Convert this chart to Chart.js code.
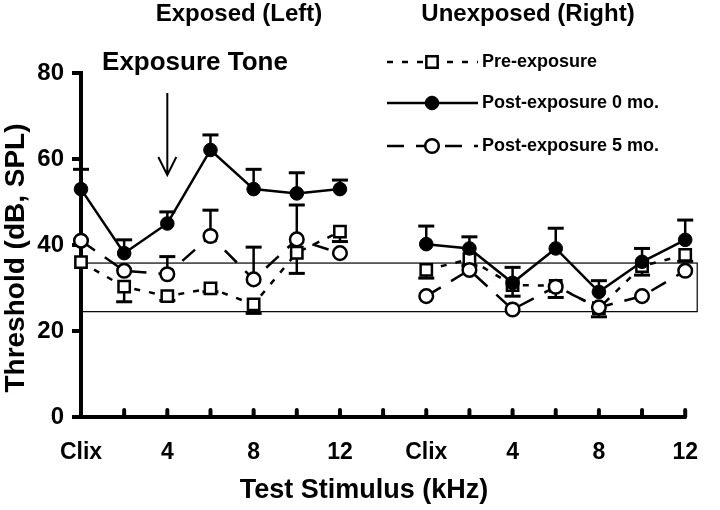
<!DOCTYPE html>
<html>
<head>
<meta charset="utf-8">
<script src="https://cdn.jsdelivr.net/npm/chart.js@4.4.1/dist/chart.umd.min.js"></script>
<style>
  html, body { margin: 0; padding: 0; background: #fff; }
</style>
</head>
<body>
<canvas id="thresholdChart" width="720" height="510"></canvas>
<script>
// two ears side by side, one empty slot between them
const categories = ["Clix", "", "4", "", "8", "", "12", "", "Clix", "", "4", "", "8", "", "12"];
const yTicks = [0, 20, 40, 60, 80];

const preExposure = [36, 30.3, 28.1, 29.9, 26.2, 38.2, 43.1, null, 34.2, 36.7, 30.7, 30.5, 25.3, 35.1, 37.7];
const postExp0 = [53, 38.1, 45, 62.1, 53, 52, 53, null, 40.2, 39.2, 31.2, 39.2, 29.1, 36.1, 41.2];
const postExp5 = [41, 34, 33.2, 42.1, 32, 41.3, 38.1, null, 28.1, 34.2, 25, 30.3, 25.5, 28.1, 34];

// error bars (one-sided): post-exposure go up, pre-exposure go down
const post0Err = [4.6, 3.1, 2.7, 3.5, 4.6, 4.8, 2.1, null, 4.2, 2.7, 3.6, 4.7, 2.6, 3.1, 4.6];
const post5Err = [null, null, 4.1, 6, 7.5, 8, null, null, null, null, null, null, null, null, null];
const preErr = [null, 3.5, 1, 0.8, 2.1, 4.8, 2.3, null, 1.9, 1.5, 2.6, 2.7, 2, 2.1, 1.5];

// normal range box
const bandLow = 24.5;
const bandHigh = 35.8;

const FONT = '"Liberation Sans", Arial, Helvetica, sans-serif';

const errorBarPlugin = {
    id: "errorBars",
    beforeDatasetsDraw(chart) {
        const ctx = chart.ctx;
        const x = chart.scales.x, y = chart.scales.y;
        const sets = [
            { vals: postExp0, err: post0Err, dir: 1 },
            { vals: postExp5, err: post5Err, dir: 1 },
            { vals: preExposure, err: preErr, dir: -1 }
        ];
        ctx.save();
        // box
        const top = y.getPixelForValue(bandHigh);
        const bot = y.getPixelForValue(bandLow);
        ctx.strokeStyle = "#000";
        ctx.lineWidth = 1.2;
        ctx.strokeRect(chart.chartArea.left, top, chart.chartArea.right + 12 - chart.chartArea.left, bot - top);

        ctx.lineWidth = 2.5;
        sets.forEach((s) => {
            s.vals.forEach((v, i) => {
                const e = s.err[i];
                if (v == null || e == null) return;
                const px = x.getPixelForValue(i);
                const p0 = y.getPixelForValue(v);
                const p1 = y.getPixelForValue(v + s.dir * e);
                ctx.beginPath();
                ctx.moveTo(px, p0);
                ctx.lineTo(px, p1);
                ctx.stroke();
                ctx.fillRect(px - 8, p1 - 1.5, 16, 3);
            });
        });
        ctx.restore();
    }
};

const decorPlugin = {
    id: "decor",
    afterDraw(chart) {
        const ctx = chart.ctx;
        const x = chart.scales.x;
        const area = chart.chartArea;
        ctx.save();
        ctx.fillStyle = "#000";
        ctx.strokeStyle = "#000";

        // inward tick stubs on the x axis
        ctx.lineWidth = 4;
        ctx.lineCap = "round";
        for (let i = 1; i < categories.length; i++) {
            const px = x.getPixelForValue(i);
            ctx.beginPath();
            ctx.moveTo(px, area.bottom);
            ctx.lineTo(px, area.bottom - 7);
            ctx.stroke();
        }
        ctx.lineCap = "butt";

        // headings
        ctx.textAlign = "center";
        ctx.textBaseline = "middle";
        ctx.font = "bold 24px " + FONT;
        ctx.fillText("Exposed (Left)", 239, 14);
        ctx.fillText("Unexposed (Right)", 528, 14);
        ctx.font = "bold 26px " + FONT;
        ctx.fillText("Exposure Tone", 195, 63);

        // arrow at the exposure frequency (4 kHz)
        const ax = x.getPixelForValue(2);
        ctx.lineWidth = 2;
        ctx.beginPath();
        ctx.moveTo(ax, 93);
        ctx.lineTo(ax, 175);
        ctx.moveTo(ax - 9, 157);
        ctx.lineTo(ax, 175);
        ctx.lineTo(ax + 9, 157);
        ctx.stroke();

        // axis titles
        ctx.font = "bold 27px " + FONT;
        ctx.fillText("Test Stimulus (kHz)", 364, 491);
        ctx.save();
        ctx.translate(16, 258);
        ctx.rotate(-Math.PI / 2);
        ctx.font = "bold 28px " + FONT;
        ctx.fillText("Threshold (dB, SPL)", 0, 0);
        ctx.restore();

        // legend
        const rows = [
            { label: "Pre-exposure", ds: chart.data.datasets[2], y: 62 },
            { label: "Post-exposure 0 mo.", ds: chart.data.datasets[0], y: 103 },
            { label: "Post-exposure 5 mo.", ds: chart.data.datasets[1], y: 146 }
        ];
        rows.forEach((r) => {
            ctx.save();
            ctx.lineWidth = r.ds.borderWidth;
            ctx.setLineDash(r.ds.borderDash || []);
            ctx.beginPath();
            ctx.moveTo(387, r.y);
            ctx.lineTo(478, r.y);
            ctx.stroke();
            ctx.setLineDash([]);
            ctx.fillStyle = r.ds.pointBackgroundColor;
            ctx.strokeStyle = "#000";
            ctx.lineWidth = r.ds.pointBorderWidth;
            Chart.helpers.drawPoint(ctx, {
                pointStyle: r.ds.pointStyle,
                radius: r.ds.pointRadius,
                borderWidth: r.ds.pointBorderWidth
            }, 432, r.y);
            ctx.restore();
            ctx.textAlign = "left";
            ctx.font = "bold 18px " + FONT;
            ctx.fillText(r.label, 482, r.y);
        });

        ctx.restore();
    }
};

const ctx = document.getElementById("thresholdChart").getContext("2d");
const thresholdChart = new Chart(ctx, {
    type: "line",
    data: {
        labels: categories,
        datasets: [
            {
                label: "Post-exposure 0 mo.",
                data: postExp0,
                borderColor: "#000",
                borderWidth: 2.5,
                pointStyle: "circle",
                pointRadius: 6.8,
                pointBackgroundColor: "#000",
                pointBorderColor: "#000",
                pointBorderWidth: 1
            },
            {
                label: "Post-exposure 5 mo.",
                data: postExp5,
                borderColor: "#000",
                borderWidth: 2.5,
                borderDash: [17, 12],
                pointStyle: "circle",
                pointRadius: 6.8,
                pointBackgroundColor: "#fff",
                pointBorderColor: "#000",
                pointBorderWidth: 2.5
            },
            {
                label: "Pre-exposure",
                data: preExposure,
                borderColor: "#000",
                borderWidth: 2.5,
                borderDash: [6, 9],
                pointStyle: "rect",
                pointRadius: 8,
                pointBackgroundColor: "#fff",
                pointBorderColor: "#000",
                pointBorderWidth: 2.5
            }
        ]
    },
    options: {
        responsive: false,
        animation: false,
        spanGaps: false,
        layout: { padding: { left: 0, right: 18, top: 73, bottom: 0 } },
        plugins: {
            legend: { display: false },
            tooltip: { enabled: false }
        },
        scales: {
            x: {
                offset: false,
                grid: { display: false, drawTicks: false },
                border: { display: true, width: 4, color: "#000" },
                ticks: {
                    autoSkip: false,
                    maxRotation: 0,
                    padding: 22,
                    color: "#000",
                    font: { family: FONT, size: 23, weight: "bold" }
                },
                afterFit(scale) { scale.height = 93; }
            },
            y: {
                min: 0,
                max: 80,
                afterBuildTicks(scale) { scale.ticks = yTicks.map((v) => ({ value: v })); },
                grid: { drawOnChartArea: false, tickLength: 9, lineWidth: 4, color: "#000" },
                border: { display: true, width: 4, color: "#000" },
                ticks: {
                    padding: 8,
                    color: "#000",
                    font: { family: FONT, size: 24, weight: "bold" }
                },
                afterFit(scale) { scale.width = 81; }
            }
        }
    },
    plugins: [errorBarPlugin, decorPlugin]
});
</script>
</body>
</html>
